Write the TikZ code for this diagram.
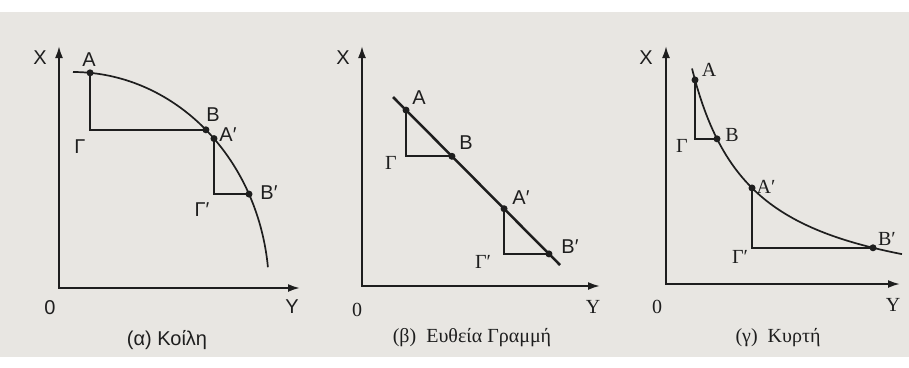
\documentclass[tikz,border=0pt]{standalone}
\usepackage{fontspec}
\setmainfont{Liberation Serif}
\newfontfamily\lblsans{Liberation Sans}
\usepackage{xcolor}
\definecolor{pgPaper}{RGB}{232,230,226}
\definecolor{pgInk}{RGB}{30,30,30}
\usetikzlibrary{arrows.meta,calc}

\begin{document}
\begin{tikzpicture}[x=1pt,y=-1pt,
  ax/.style={-{Latex[length=12pt,width=8pt]},pgInk,line width=2pt},
  crv/.style={pgInk,line width=1.7pt},
  tri/.style={pgInk,line width=1.7pt},
  dot/.style={circle,fill=pgInk,inner sep=0pt,minimum size=7pt},
  lbl/.style={font=\lblsans\fontsize{20}{24}\selectfont,text=pgInk,inner sep=0pt},
  lbs/.style={font=\fontsize{20}{24}\selectfont,text=pgInk,inner sep=0pt}]
  \useasboundingbox (0,0) rectangle (909,367);
  \fill[pgPaper] (0,12) rectangle (909,357);

  % (a) concave
  \coordinate (aO) at (59,288);
  \coordinate (aXt) at (59,46);
  \coordinate (aYt) at (300,288);
  \draw[ax] ([yshift=1pt]aO) -- (aXt);
  \draw[ax] ([xshift=-1pt]aO) -- (aYt);
  \draw[crv] plot[domain=90:6,samples=70] ({73+196*cos(\x)},{290-218*sin(\x)});
  \node[dot] (aA) at ({73+196*cos(85)},{290-218*sin(85)}) {};
  \node[dot] (aB) at ({73+196*cos(47.3)},{290-218*sin(47.3)}) {};
  \node[dot] (aA2) at ({73+196*cos(44)},{290-218*sin(44)}) {};
  \node[dot] (aB2) at ({73+196*cos(26.1)},{290-218*sin(26.1)}) {};
  \draw[tri] (aA.center) |- (aB.center);
  \draw[tri] (aA2.center) |- (aB2.center);
  \node[lbl] (aXl) at (40,58) {X};
  \node[lbl] (aYl) at (292,307) {Y};
  \node[lbl] (aOl) at (50,308) {0};
  \node[lbl] (aAl) at (89,60) {A};
  \node[lbl] (aBl) at (213,115) {B};
  \node[lbl] (aA2l) at (228,135) {A′};
  \node[lbl] (aB2l) at (269,193) {B′};
  \node[lbl] (aGl) at (80,147) {Γ};
  \node[lbl] (aG2l) at (202,210) {Γ′};
  \node[lbl] (aCap) at (167,340) {(α) Κοίλη};

  % (b) straight line
  \coordinate (bO) at (362,286);
  \coordinate (bXt) at (362,46);
  \coordinate (bYt) at (600,286);
  \draw[ax] ([yshift=1pt]bO) -- (bXt);
  \draw[ax] ([xshift=-1pt]bO) -- (bYt);
  \coordinate (bS) at (393,97);
  \coordinate (bE) at (560,265);
  \draw[crv,line width=2.5pt] (bS) -- (bE);
  \node[dot] (bA) at ($(bS)!0.078!(bE)$) {};
  \node[dot] (bB) at ($(bS)!0.353!(bE)$) {};
  \node[dot] (bA2) at ($(bS)!0.665!(bE)$) {};
  \node[dot] (bB2) at ($(bS)!0.934!(bE)$) {};
  \draw[tri] (bA.center) |- (bB.center);
  \draw[tri] (bA2.center) |- (bB2.center);
  \node[lbl] (bXl) at (343,58) {X};
  \node[lbs] (bYl) at (593,307) {Y};
  \node[lbs] (bOl) at (357,310) {0};
  \node[lbl] (bAl) at (419,98) {A};
  \node[lbl] (bBl) at (466,143) {B};
  \node[lbl] (bA2l) at (521,198) {A′};
  \node[lbl] (bB2l) at (570,247) {B′};
  \node[lbs] (bGl) at (391,163) {Γ};
  \node[lbs] (bG2l) at (483,262) {Γ′};
  \node[lbs] (bCap) at (472,338) {(β)\ \ Ευθεία Γραμμή};

  % (c) convex
  \coordinate (cO) at (666,284);
  \coordinate (cXt) at (666,46);
  \coordinate (cYt) at (900,284);
  \draw[ax] ([yshift=1pt]cO) -- (cXt);
  \draw[ax] ([xshift=-1pt]cO) -- (cYt);
  \draw[crv] plot[domain=692:902,samples=80] (\x,{307-14260/(\x-632.2)});
  \node[dot] (cA) at (695,{307-14260/(695-632.2)}) {};
  \node[dot] (cB) at (717,{307-14260/(717-632.2)}) {};
  \node[dot] (cA2) at (752,{307-14260/(752-632.2)}) {};
  \node[dot] (cB2) at (873,{307-14260/(873-632.2)}) {};
  \draw[tri] (cA.center) |- (cB.center);
  \draw[tri] (cA2.center) |- (cB2.center);
  \node[lbl] (cXl) at (646,58) {X};
  \node[lbs] (cYl) at (893,305) {Y};
  \node[lbs] (cOl) at (657,307) {0};
  \node[lbs] (cAl) at (709,70) {A};
  \node[lbs] (cBl) at (732,135) {B};
  \node[lbs] (cA2l) at (766,187) {A′};
  \node[lbs] (cB2l) at (887,239) {B′};
  \node[lbs] (cGl) at (682,146) {Γ};
  \node[lbs] (cG2l) at (740,257) {Γ′};
  \node[lbs] (cCap) at (778,338) {(γ)\ \ Κυρτή};
\end{tikzpicture}
\end{document}
